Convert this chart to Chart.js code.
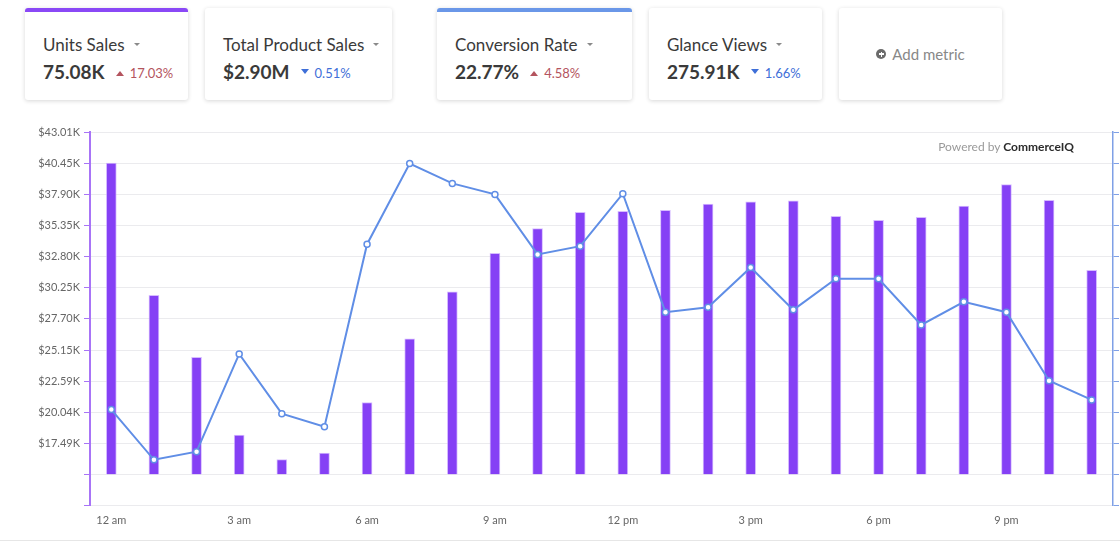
<!DOCTYPE html>
<html>
<head>
<meta charset="utf-8">
<script src="https://cdn.jsdelivr.net/npm/chart.js@4.4.1/dist/chart.umd.min.js"></script>
<style>
  body { margin: 0; width: 1120px; height: 542px; overflow: hidden; background: #fff; position: relative; font-family: Lato, 'Noto Sans', sans-serif; }
  .card { position: absolute; top: 8px; height: 92px; background: #fff; border-radius: 3px; box-shadow: 0 1px 4px rgba(0,0,0,0.16); }
  .stripe { position: absolute; left: 0; right: 0; top: 0; height: 4px; border-radius: 3px 3px 0 0; }
  .title { position: absolute; left: 18px; top: 27px; font-size: 17px; line-height: 20px; color: #3a3a3a; white-space: nowrap; }
  .caret { display: inline-block; width: 0; height: 0; border-left: 3px solid transparent; border-right: 3px solid transparent; border-top: 3.5px solid #8a8a8a; margin-left: 9px; vertical-align: middle; position: relative; top: -2px; }
  .value { position: absolute; left: 18px; top: 53px; font-size: 19px; line-height: 22px; font-weight: 700; color: #3a3a3a; white-space: nowrap; }
  .delta { font-size: 13px; font-weight: 400; vertical-align: 1px; }
  .up { color: #b4545e; }
  .down { color: #3f6fd8; }
  .tri-up, .tri-down { display: inline-block; width: 0; height: 0; border-left: 4.5px solid transparent; border-right: 4.5px solid transparent; margin: 0 6px 0 11px; vertical-align: middle; position: relative; }
  .tri-up { border-bottom: 5px solid #b4545e; top: -1px; }
  .tri-down { border-top: 5px solid #3f6fd8; top: -3px; }
  .add { position: absolute; left: 0; right: 0; top: 0; bottom: 0; display: flex; align-items: center; justify-content: center; font-size: 15px; color: #888; }
  .plus { width: 10px; height: 10px; border-radius: 50%; background: #6b6b6b; position: relative; margin-right: 6px; }
  .plus::before { content: ''; position: absolute; left: 2.5px; top: 4.25px; width: 5px; height: 1.5px; background: #fff; }
  .plus::after { content: ''; position: absolute; left: 4.25px; top: 2.5px; width: 1.5px; height: 5px; background: #fff; }
  #wrap { position: absolute; left: 0; top: 120px; width: 1120px; height: 422px; }
  .powered { position: absolute; right: 46px; top: 140px; font-size: 12px; line-height: 14px; color: #9a9a9a; }
  .powered b { color: #2b2b2b; font-weight: 700; }
  .rule { position: absolute; left: 0; right: 0; top: 540px; height: 1px; background: #e6e6e6; }
</style>
</head>
<body>

<div class="card" style="left:25px;width:163px">
  <div class="stripe" style="background:#8a48f6"></div>
  <div class="title">Units Sales<span class="caret"></span></div>
  <div class="value">75.08K<span class="tri-up"></span><span class="delta up">17.03%</span></div>
</div>
<div class="card" style="left:205px;width:187px">
  <div class="title">Total Product Sales<span class="caret"></span></div>
  <div class="value">$2.90M<span class="tri-down"></span><span class="delta down">0.51%</span></div>
</div>
<div class="card" style="left:437px;width:195px">
  <div class="stripe" style="background:#6a97e8"></div>
  <div class="title">Conversion Rate<span class="caret"></span></div>
  <div class="value">22.77%<span class="tri-up"></span><span class="delta up">4.58%</span></div>
</div>
<div class="card" style="left:649px;width:173px">
  <div class="title">Glance Views<span class="caret"></span></div>
  <div class="value">275.91K<span class="tri-down"></span><span class="delta down">1.66%</span></div>
</div>
<div class="card" style="left:839px;width:163px">
  <div class="add"><span class="plus"></span>Add metric</div>
</div>

<div id="wrap"><canvas id="chart" width="1120" height="422"></canvas></div>
<div class="powered">Powered by <b>CommerceIQ</b></div>
<div class="rule"></div>

<script>
const hours = ['12 am', '1 am', '2 am', '3 am', '4 am', '5 am', '6 am', '7 am', '8 am', '9 am', '10 am', '11 am',
               '12 pm', '1 pm', '2 pm', '3 pm', '4 pm', '5 pm', '6 pm', '7 pm', '8 pm', '9 pm', '10 pm', '11 pm'];

// units per hour (bars, right axis)
const unitsSales = [4700, 2705, 1772, 598, 227, 326, 1088, 2049, 2759, 3339, 3711, 3959,
                    3974, 3989, 4084, 4115, 4130, 3899, 3838, 3883, 4054, 4376, 4140, 3082];

// sales in $K (line, left axis)
const productSales = [20.27, 16.16, 16.82, 24.83, 19.94, 18.87, 33.82, 40.42, 38.80, 37.90, 32.98, 33.66,
                      37.96, 28.25, 28.66, 31.91, 28.44, 30.99, 30.99, 27.21, 29.10, 28.25, 22.64, 21.06];

const salesTicks = [12.39, 14.94, 17.49, 20.04, 22.59, 25.15, 27.70, 30.25, 32.80, 35.35, 37.90, 40.45, 43.01];
const salesTickLabels = ['', '', '$17.49K', '$20.04K', '$22.59K', '$25.15K', '$27.70K', '$30.25K',
                         '$32.80K', '$35.35K', '$37.90K', '$40.45K', '$43.01K'];
const unitTicks = [-470, 0, 470, 940, 1410, 1880, 2350, 2820, 3290, 3760, 4230, 4700, 5170];

const purple = '#8540f5';
const purpleAxis = '#a874f7';
const blue = '#608ee6';
const blueAxis = '#7fa0e6';
const labelFont = { family: 'Lato', size: 11 };

new Chart(document.getElementById('chart').getContext('2d'), {
    type: 'bar',
    data: {
        labels: hours,
        datasets: [{
            type: 'line',
            label: 'Total Product Sales',
            data: productSales,
            yAxisID: 'y',
            borderColor: blue,
            borderWidth: 2,
            tension: 0,
            pointRadius: 3,
            pointBorderWidth: 1.5,
            pointBackgroundColor: '#fff',
            pointBorderColor: blue,
            order: 0
        }, {
            type: 'bar',
            label: 'Units Sales',
            data: unitsSales,
            yAxisID: 'y1',
            backgroundColor: purple,
            borderColor: 'rgba(196,160,255,0.7)',
            borderWidth: 1,
            barThickness: 10,
            order: 1
        }]
    },
    options: {
        responsive: false,
        animation: false,
        layout: { padding: { top: 12, bottom: 7, left: 0, right: 0 } },
        plugins: { legend: { display: false }, tooltip: { enabled: false } },
        scales: {
            x: {
                grid: { display: false, drawTicks: false },
                border: { display: false },
                ticks: {
                    autoSkip: false,
                    maxRotation: 0,
                    padding: 8,
                    color: '#666',
                    font: labelFont,
                    callback: (v, i) => i % 3 === 0 ? hours[i] : ''
                }
            },
            y: {
                position: 'left',
                min: salesTicks[0],
                max: salesTicks[salesTicks.length - 1],
                afterBuildTicks: s => { s.ticks = salesTicks.map(v => ({ value: v })); },
                afterFit: s => { s.width = 90; },
                ticks: {
                    padding: 4,
                    color: '#666',
                    font: labelFont,
                    callback: (v, i) => salesTickLabels[i]
                },
                grid: { color: '#ebebee', tickColor: purpleAxis, tickLength: 6 },
                border: { color: purpleAxis, width: 2 }
            },
            y1: {
                position: 'right',
                min: unitTicks[0],
                max: unitTicks[unitTicks.length - 1],
                afterBuildTicks: s => { s.ticks = unitTicks.map(v => ({ value: v })); },
                afterFit: s => { s.width = 7; },
                ticks: { display: false },
                grid: { drawOnChartArea: false, tickColor: blueAxis, tickLength: 6 },
                border: { color: blueAxis, width: 1.5 }
            }
        }
    }
});
</script>
</body>
</html>
